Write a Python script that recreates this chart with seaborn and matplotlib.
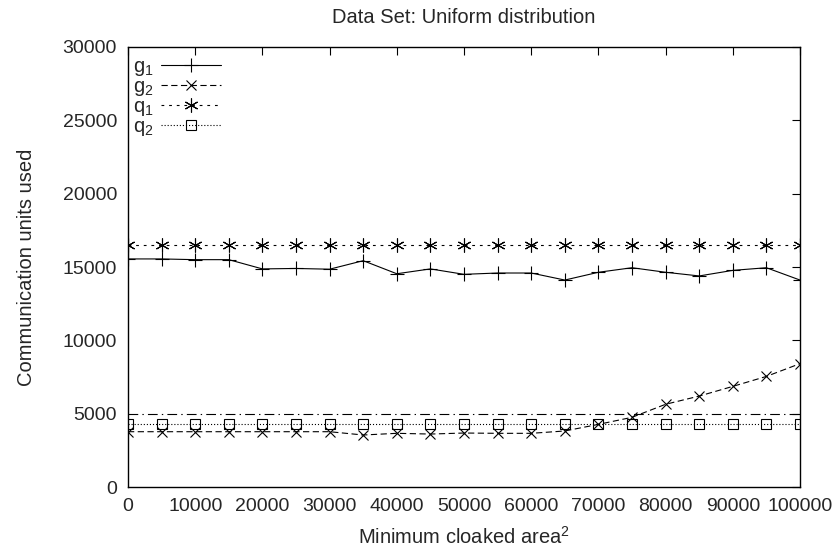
import matplotlib
matplotlib.use("Agg")
import matplotlib.pyplot as plt
import seaborn as sns
import pandas as pd

# ---- data ----
x_area = [0, 5000, 10000, 15000, 20000, 25000, 30000, 35000, 40000, 45000, 50000,
          55000, 60000, 65000, 70000, 75000, 80000, 85000, 90000, 95000, 100000]
g1 = [15550, 15550, 15500, 15500, 14870, 14900, 14850, 15430, 14540, 14870, 14500,
      14590, 14590, 14110, 14640, 14950, 14640, 14390, 14770, 14950, 14110]
g2 = [3770, 3770, 3770, 3770, 3770, 3770, 3770, 3545, 3660, 3610, 3680,
      3660, 3660, 3820, 4270, 4750, 5640, 6200, 6860, 7540, 8410]
q1 = [16500] * 21
q2 = [4270] * 21
ref_line = [5000] * 21

series_labels = [r"g$_1$", r"g$_2$", r"q$_1$", r"q$_2$"]
x_ticks = [0, 10000, 20000, 30000, 40000, 50000, 60000, 70000, 80000, 90000, 100000]
y_ticks = [0, 5000, 10000, 15000, 20000, 25000, 30000]

sns.set_style("white")
plt.rcParams["font.family"] = ["Liberation Sans", "DejaVu Sans"]
plt.rcParams["mathtext.fontset"] = "custom"
plt.rcParams["mathtext.rm"] = "Liberation Sans"
plt.rcParams["mathtext.it"] = "Liberation Sans"
plt.rcParams["lines.scale_dashes"] = False

fig = plt.figure(figsize=(8.37, 5.55), dpi=100)
ax = fig.add_axes([128 / 837, 68 / 555, 672 / 837, 440 / 555])

df = pd.DataFrame({"x": x_area, "g1": g1, "g2": g2, "q1": q1, "q2": q2, "ref": ref_line})

lw = 0.8
common = dict(ax=ax, color="black", lw=lw, markeredgecolor="black", markeredgewidth=0.8)
sns.lineplot(data=df, x="x", y="g1", linestyle="-", marker="+", markersize=10,
             label=series_labels[0], **common)
sns.lineplot(data=df, x="x", y="g2", linestyle=(0, (4.5, 2.5)), marker="x", markersize=7,
             label=series_labels[1], **common)
sns.lineplot(data=df, x="x", y="q1", linestyle=(0, (2, 3.5)), marker=(6, 2, 0), markersize=10,
             label=series_labels[2], **common)
sns.lineplot(data=df, x="x", y="q2", linestyle=(0, (0.8, 1.4)), marker="s", markersize=6.5,
             markerfacecolor="none", label=series_labels[3], **common)
sns.lineplot(data=df, x="x", y="ref", ax=ax, color="black", lw=lw,
             linestyle=(0, (7, 3, 1, 3)))

ax.set_xlim(0, 100000)
ax.set_ylim(0, 30000)
ax.set_xticks(x_ticks)
ax.set_yticks(y_ticks)
ax.tick_params(direction="in", length=6, width=0.8, top=True, right=True,
               labelsize=14, pad=8, color="black")
for s in ax.spines.values():
    s.set_linewidth(1.0)
    s.set_color("black")

ax.set_xlabel(r"Minimum cloaked area$^2$", fontsize=14.5, labelpad=8)
ax.set_ylabel("Communication units used", fontsize=14.5, labelpad=19)
ax.set_title("Data Set: Uniform distribution", fontsize=14.5, pad=17)

leg = ax.legend(loc="upper left", frameon=False, markerfirst=False, fontsize=14.5,
                handlelength=3.0, handletextpad=0.35, labelspacing=-0.05,
                borderaxespad=0.0, borderpad=0.35, bbox_to_anchor=(-0.003, 0.993))

fig.savefig("out.png", dpi=100)
